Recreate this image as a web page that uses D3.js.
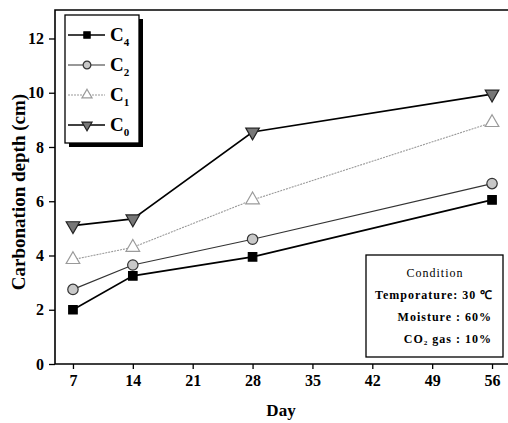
<!DOCTYPE html>
<html>
<head>
<meta charset="utf-8">
<script src="https://cdn.jsdelivr.net/npm/d3@7"></script>
<style>
  body { margin: 0; background: #fff; }
  svg { display: block; }
  text { font-family: "Liberation Serif", "Times New Roman", serif; }
</style>
</head>
<body>
<div id="chart"></div>
<script>
const days = [7, 14, 28, 56];
const c4 = [2.0, 3.25, 3.95, 6.05];
const c2 = [2.75, 3.65, 4.6, 6.65];
const c1 = [3.85, 4.3, 6.05, 8.9];
const c0 = [5.1, 5.35, 8.55, 9.95];
const seriesNames = ["4", "2", "1", "0"];
const xTicks = [7, 14, 21, 28, 35, 42, 49, 56];
const yTicks = [0, 2, 4, 6, 8, 10, 12];
const conditionLines = ["Condition", "Temporature: 30 \u2103", "Moisture : 60%", "CO\u2082 gas : 10%"];

const width = 508, height = 423;
const margin = { top: 10, left: 55, bottom: 59 };

const svg = d3.select("#chart").append("svg")
  .attr("width", width).attr("height", height);

const x = d3.scaleLinear().domain([4.9, 58.1]).range([margin.left, 510]);
const y = d3.scaleLinear().domain([0, 13.05]).range([height - margin.bottom, margin.top]);

// frame
svg.append("path")
  .attr("d", `M${x(58.1)},${y(13.05)} H${x(4.9)} V${y(0)} H${x(58.1)}`)
  .attr("fill", "none").attr("stroke", "#000").attr("stroke-width", 1.6);

const xAxis = svg.append("g")
  .attr("transform", `translate(0,${y(0)})`)
  .call(d3.axisBottom(x).tickValues(xTicks).tickSize(5).tickPadding(6).tickFormat(d3.format("d")));
xAxis.select(".domain").remove();
xAxis.selectAll("text").attr("font-size", 16).attr("font-weight", "bold")
  .style("font-family", "'Liberation Serif', serif");

const yAxis = svg.append("g")
  .attr("transform", `translate(${x(4.9)},0)`)
  .call(d3.axisLeft(y).tickValues(yTicks).tickSize(6).tickPadding(5).tickFormat(d3.format("d")));
yAxis.select(".domain").remove();
yAxis.selectAll("text").attr("font-size", 16).attr("font-weight", "bold")
  .style("font-family", "'Liberation Serif', serif");
svg.selectAll(".tick line").attr("stroke-width", 1.3);

svg.append("text")
  .attr("transform", `translate(25,192) rotate(-90)`)
  .attr("text-anchor", "middle")
  .attr("font-size", 19).attr("font-weight", "bold")
  .text("Carbonation depth (cm)");

svg.append("text")
  .attr("x", 281).attr("y", 416)
  .attr("text-anchor", "middle")
  .attr("font-size", 17).attr("font-weight", "bold")
  .text("Day");

const styles = [
  { vals: c4, line: "#000", lw: 1.6, dash: null, shape: "square", fill: "#000", stroke: "#000" },
  { vals: c2, line: "#333", lw: 1.2, dash: null, shape: "circle", fill: "#c8c8c8", stroke: "#333" },
  { vals: c1, line: "#9a9a9a", lw: 1.1, dash: "2,1", shape: "up", fill: "#fff", stroke: "#9a9a9a" },
  { vals: c0, line: "#000", lw: 1.6, dash: null, shape: "down", fill: "#777", stroke: "#222" }
];

const symbolPath = (shape, k) => {
  if (shape === "square") return d3.symbol().type(d3.symbolSquare).size(72 * k)();
  if (shape === "circle") return d3.symbol().type(d3.symbolCircle).size(85 * k)();
  return d3.symbol().type(d3.symbolTriangle).size(80 * k)();
};

function drawMarker(g, s, px, py, k = 1) {
  g.append("path")
    .attr("d", symbolPath(s.shape, k))
    .attr("transform", `translate(${px},${py})` + (s.shape === "down" ? " rotate(180)" : ""))
    .attr("fill", s.fill).attr("stroke", s.stroke).attr("stroke-width", 1.2);
}

const line = d3.line().x(d => x(d[0])).y(d => y(d[1]));
const plot = svg.append("g");
styles.forEach(s => {
  const pts = days.map((d, i) => [d, s.vals[i]]);
  plot.append("path")
    .attr("d", line(pts))
    .attr("fill", "none").attr("stroke", s.line).attr("stroke-width", s.lw)
    .attr("stroke-dasharray", s.dash);
  pts.forEach(p => drawMarker(plot, s, x(p[0]), y(p[1])));
});

// legend
const lg = svg.append("g");
lg.append("rect").attr("x", 69).attr("y", 19).attr("width", 74).attr("height", 128).attr("fill", "#000");
lg.append("rect").attr("x", 65).attr("y", 15).attr("width", 74).attr("height", 128)
  .attr("fill", "#fff").attr("stroke", "#000").attr("stroke-width", 1.3);
styles.forEach((s, i) => {
  const ly = 35 + i * 30;
  lg.append("line").attr("x1", 68).attr("x2", 105).attr("y1", ly).attr("y2", ly)
    .attr("stroke", s.line).attr("stroke-width", s.lw).attr("stroke-dasharray", s.dash);
  drawMarker(lg, s, 87, ly, 0.55);
  const t = lg.append("text").attr("x", 110).attr("y", ly + 6)
    .attr("font-size", 19).attr("font-weight", "bold").text("C");
  t.append("tspan").attr("dy", 5).attr("font-size", 11).text(seriesNames[i]);
});

// condition box
const cb = svg.append("g");
cb.append("rect").attr("x", 366).attr("y", 255).attr("width", 137).attr("height", 102)
  .attr("fill", "#fff").attr("stroke", "#000").attr("stroke-width", 1.3);
const condPos = [[435, 277, "middle"], [375, 299, "start"], [492, 321, "end"], [492, 343, "end"]];
conditionLines.forEach((t, i) => {
  cb.append("text").attr("x", condPos[i][0]).attr("y", condPos[i][1])
    .attr("text-anchor", condPos[i][2])
    .attr("font-size", 12).attr("letter-spacing", 1)
    .attr("font-weight", i === 0 ? "normal" : "bold")
    .text(t);
});
</script>
</body>
</html>
